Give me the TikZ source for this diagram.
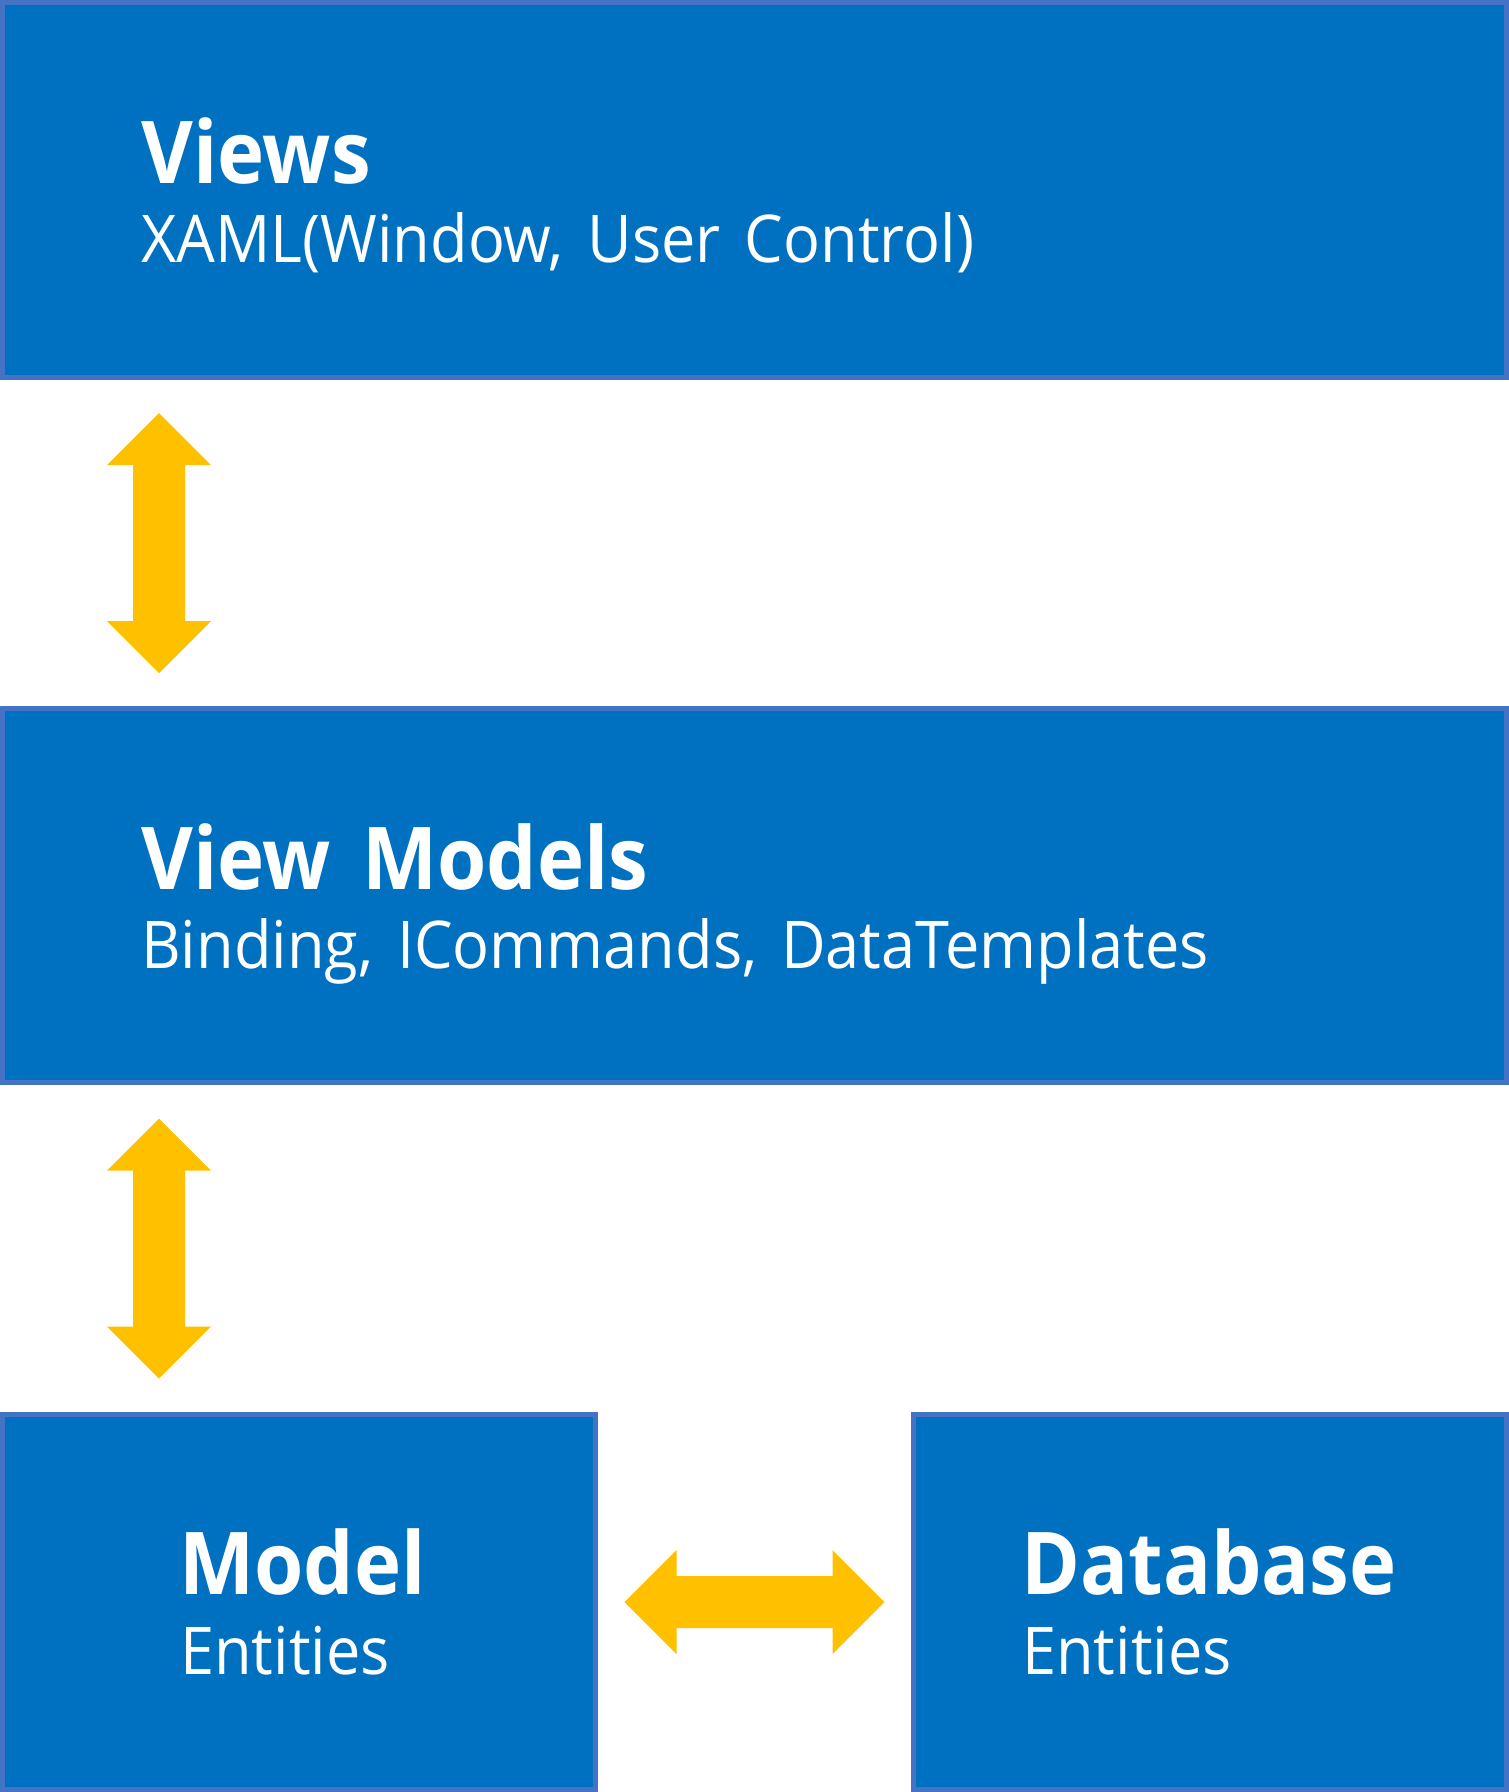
\documentclass[tikz,border=0pt]{standalone}
\usepackage{fontspec}
\setmainfont{Open Sans}[WordSpace=1.5,UprightFeatures={FakeStretch=0.93},BoldFeatures={FakeStretch=0.92}]
\usetikzlibrary{calc}
\definecolor{boxblue}{HTML}{0070C0}
\definecolor{boxline}{HTML}{4472C4}
\definecolor{arrowfill}{HTML}{FFC000}

\begin{document}
\begin{tikzpicture}[x=0.75pt,y=-0.75pt,
    layer/.style={draw=boxline,fill=boxblue,line width=3.75pt,inner sep=0pt,outer sep=0pt,anchor=north west},
    title/.style={text=white,inner sep=0pt,anchor=base west,font=\bfseries\fontsize{65}{78}\selectfont},
    subtitle/.style={text=white,inner sep=0pt,anchor=base west,font=\fontsize{49.4}{60}\selectfont},
    dblarrow/.pic={\fill[arrowfill] (0,-130) -- (52,-78) -- (26,-78) -- (26,78) -- (52,78) -- (0,130)
      -- (-52,78) -- (-26,78) -- (-26,-78) -- (-52,-78) -- cycle;}]
  \useasboundingbox (0,0) rectangle (1509,1792);
  % layers
  \node[layer,minimum width=1128pt,minimum height=281.25pt] (views) at (2.5,2.5) {};
  \node[layer,minimum width=1128pt,minimum height=280.5pt] (vm) at (2.5,708.5) {};
  \node[layer,minimum width=444.75pt,minimum height=281.25pt] (model) at (2.5,1414.5) {};
  \node[layer,minimum width=444.75pt,minimum height=281.25pt] (db) at (913.5,1414.5) {};
  % texts
  \node[title] (viewst) at (141,183) {Views};
  \node[subtitle] (viewss) at (141,262) {XAML(Window, User Control)};
  \node[title] (vmt) at (141,889) {View Models};
  \node[subtitle] (vms) at (141,968) {Binding, ICommands, DataTemplates};
  \node[title] (modelt) at (179,1594) {Model};
  \node[subtitle] (models) at (180,1674) {Entities};
  \node[title] (dbt) at (1021,1594) {Database};
  \node[subtitle] (dbs) at (1022,1674) {Entities};
  % arrows
  \pic at ($(views.south west)!0.5!(vm.north west)+(156.5,0)$) {dblarrow};
  \pic at ($(vm.south west)!0.5!(model.north west)+(156.5,0)$) {dblarrow};
  \pic[rotate=90] at ($(model.east)!0.5!(db.west)$) {dblarrow};
\end{tikzpicture}
\end{document}
